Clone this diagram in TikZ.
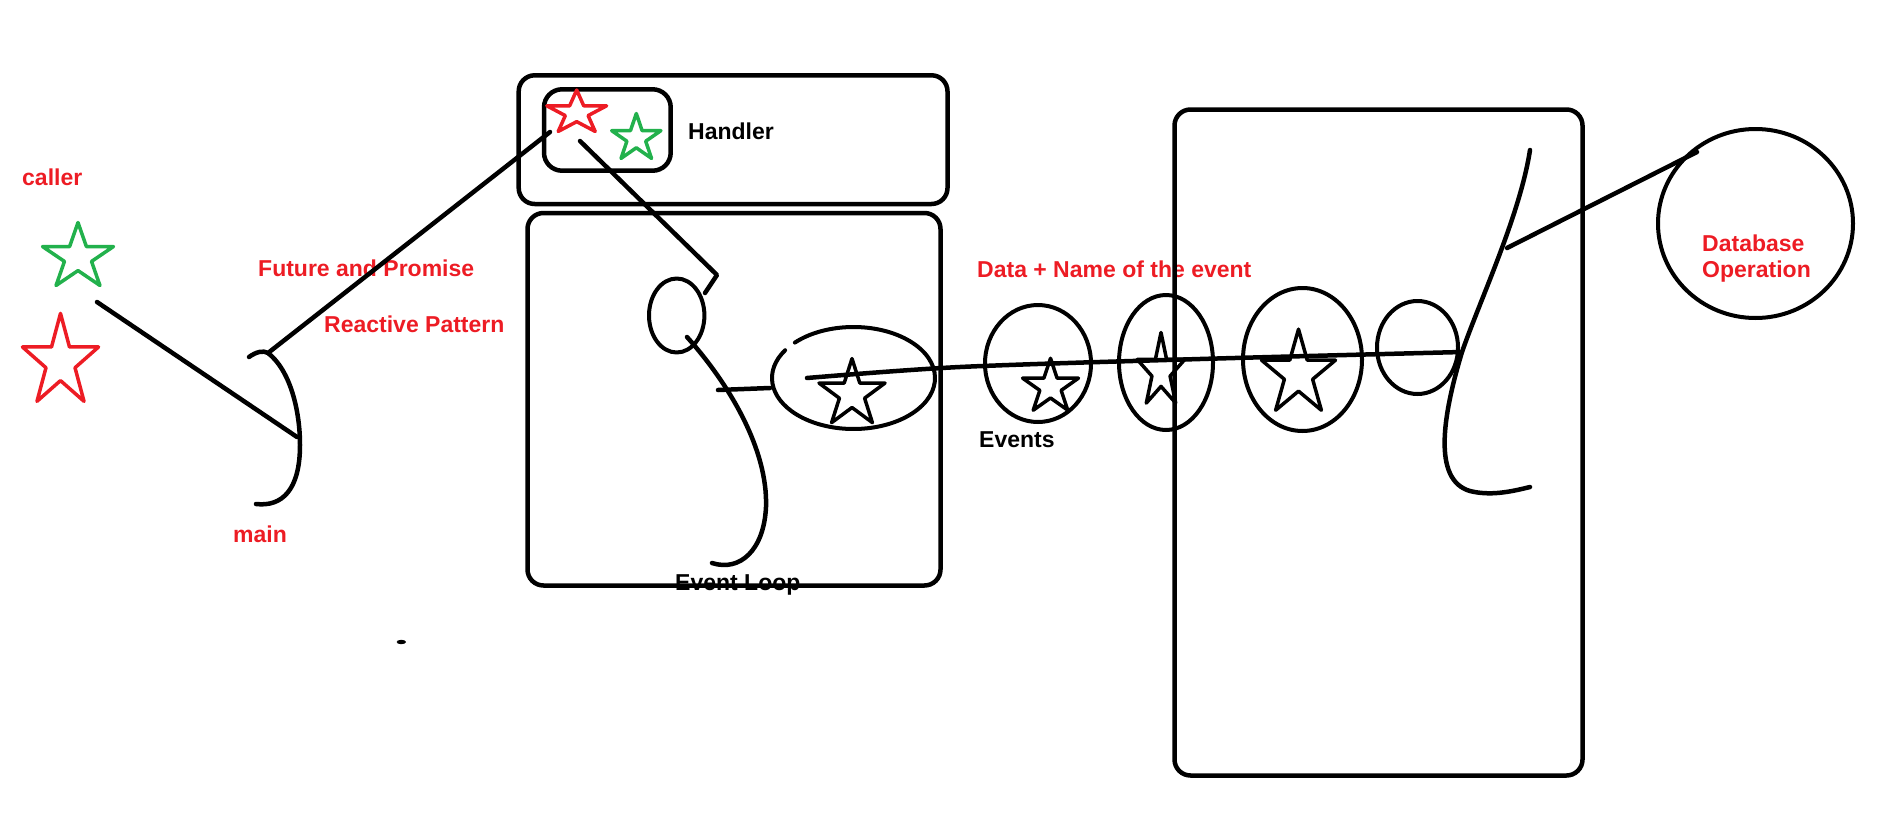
\documentclass[tikz,border=0pt]{standalone}
\usepackage{fontspec}
\setmainfont{Liberation Sans}
\usetikzlibrary{shapes.geometric}
\definecolor{paintred}{RGB}{237,28,36}
\definecolor{paintgreen}{RGB}{34,177,76}
\tikzset{
  pics/sketchstar/.style={code={
    \draw (0,-1) -- (0.2245,-0.309) -- (0.951,-0.309) -- (0.363,0.118) -- (0.588,0.809) -- (0,0.382)
      -- (-0.588,0.809) -- (-0.363,0.118) -- (-0.951,-0.309) -- (-0.2245,-0.309) -- cycle;}}
}

\begin{document}
\begin{tikzpicture}[x=1pt, y=-1pt, line cap=round, line join=round,
  pen/.style={line width=4.5pt},
  box/.style={line width=4.5pt, rounded corners=16pt},
  bubble/.style={ellipse, draw, line width=4pt, inner sep=0pt},
  starpen/.style={line width=3.5pt},
  redtext/.style={text=paintred, font=\fontsize{23}{27}\selectfont\bfseries, inner sep=0pt, anchor=base west},
  blacktext/.style={redtext, text=black}]
\useasboundingbox (0,0) rectangle (1901,822);

\node[redtext] (caller) at (22,185) {caller};
\pic[paintgreen, starpen, xscale=37.3, yscale=34.8] at (78,257.3) {sketchstar};
\pic[paintred, starpen, xscale=40, yscale=48.6] at (60.5,362) {sketchstar};
\coordinate (callerend) at (97,302);
\coordinate (maintop) at (268,353);
\coordinate (mainmid) at (297,437);
\draw[pen] (callerend) -- (mainmid);
\draw[pen] (249,357) .. controls (256,352) and (263,350) .. (maintop)
  .. controls (290,370) and (300,410) .. (300,445) .. controls (300,490) and (282,507) .. (256,504);
\node[redtext] (main) at (233,542) {main};
\node[redtext] (future) at (258,276) {Future and Promise};
\node[redtext] (reactive) at (324,332) {Reactive Pattern};

\draw[box] (518.7,75.3) rectangle (947.5,204);
\draw[box, rounded corners=18pt] (544,89.3) rectangle (670.7,170.7);
\pic[paintred, starpen, xscale=31.4, yscale=22.9] at (576.7,112.9) {sketchstar};
\pic[paintgreen, starpen, xscale=25.9, yscale=24.8] at (636.3,138.3) {sketchstar};
\node[blacktext] (handler) at (688,139) {Handler};
\coordinate (promise) at (550,132);
\draw[pen] (maintop) -- (promise);

\draw[box] (527.5,213) rectangle (940.5,585.5);
\node[bubble, minimum width=55.4pt, minimum height=74pt] (loopq) at (676.7,315.5) {};
\coordinate (handlerout) at (580,141);
\coordinate (hook) at (717,275);
\draw[pen] (handlerout) -- (hook) -- (705,293);
\draw[pen] (687,337) .. controls (730,385) and (768,450) .. (766,507) .. controls (764,550) and (740,572) .. (712,563);
\draw[pen] (718,390) -- (770,388);
\draw[line width=4pt] (853.5,378) ++(224:81.5 and 51) arc[start angle=224, end angle=573, x radius=81.5, y radius=51];
\pic[black, starpen, xscale=34.7, yscale=35.4] at (852,394) {sketchstar};
\node[blacktext] (loop) at (675,590) {Event Loop};

\node[redtext] (data) at (977,277) {Data + Name of the event};
\node[bubble, minimum width=106pt, minimum height=117pt] (ev1) at (1038,363.5) {};
\node[bubble, minimum width=94pt, minimum height=135pt] (ev2) at (1166,362.5) {};
\node[bubble, minimum width=119pt, minimum height=143pt] (ev3) at (1302.5,359.5) {};
\node[bubble, minimum width=81pt, minimum height=93pt] (ev4) at (1417.5,347.5) {};
\pic[black, starpen, xscale=29.4, yscale=28.7] at (1050.5,387) {sketchstar};
\pic[black, starpen, xscale=25, yscale=39] at (1161,371.5) {sketchstar};
\pic[black, starpen, xscale=38.9, yscale=44.8] at (1298.5,374) {sketchstar};
\node[blacktext] (events) at (979,447) {Events};
\coordinate (evstart) at (807,378);
\coordinate (evend) at (1462,352);
\draw[pen] plot[smooth] coordinates {(evstart) (960,367) (1200,359) (evend)};

\draw[box] (1174.5,109.5) rectangle (1582.5,775.5);
\draw[pen] (1530,150) .. controls (1520,215) and (1480,300) .. (evend)
  .. controls (1443,415) and (1432,480) .. (1470,491) .. controls (1490,496) and (1510,492) .. (1530,487);
\node[bubble, minimum width=195pt, minimum height=189pt] (db) at (1755.5,223.5) {};
\coordinate (storeout) at (1507,248);
\coordinate (dbin) at (1697,152);
\draw[pen] (storeout) -- (dbin);
\node[redtext] (dbname) at (1702,251) {Database};
\node[redtext] (dbop) at (1702,277) {Operation};

\fill (401.3,642) ellipse (4.7 and 2.2);
\end{tikzpicture}
\end{document}
